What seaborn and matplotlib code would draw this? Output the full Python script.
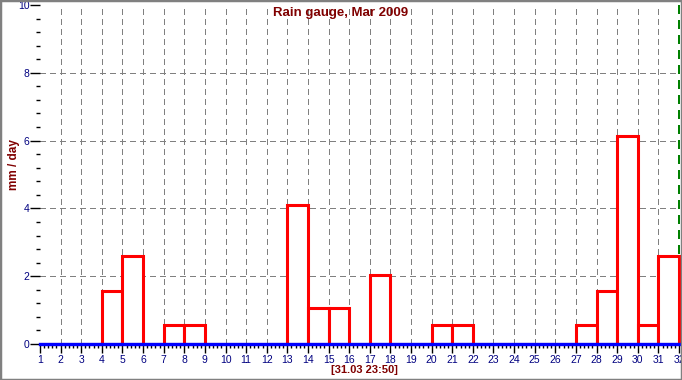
import matplotlib
matplotlib.use("Agg")
import matplotlib.pyplot as plt
from matplotlib.patches import Rectangle
from matplotlib.ticker import MultipleLocator
import seaborn as sns

# Daily rain, March 2009 (mm / day)
days = list(range(1, 32))
rain = [0, 0, 0, 1.55, 2.6, 0, 0.55, 0.55, 0, 0,
        0, 0, 4.1, 1.05, 1.05, 0, 2.05, 0, 0, 0.55,
        0.55, 0, 0, 0, 0, 0, 0.55, 1.55, 6.15, 0.55,
        2.6]
x_ticks = list(range(1, 33))
y_ticks = [0, 2, 4, 6, 8, 10]
title = "Rain gauge, Mar 2009"
y_label = "mm / day"
stamp = "[31.03 23:50]"

sns.set_style("white")
plt.rcParams["font.family"] = ["Liberation Sans", "DejaVu Sans"]

fig = plt.figure(figsize=(6.82, 3.80), dpi=100)
ax = fig.add_axes([40 / 682, 36 / 380, 639 / 682, 339 / 380])

# bars: one bin per day, white fill with red outline
sns.histplot(x=days, weights=rain, bins=x_ticks, ax=ax, stat="count",
             color="white", edgecolor="red", alpha=1, linewidth=2.2)
for p in ax.patches:
    p.set_zorder(2)
    p.set_clip_on(False)

ax.set_xlim(1, 32)
ax.set_ylim(0, 10)
ax.set_xlabel("")
ax.set_ylabel("")

# dashed grid
grid_kw = dict(colors="#808080", linestyles=(0, (4, 3)), lw=1, zorder=0.5, antialiased=False)
ax.vlines(x_ticks[1:-1], 0, 10, **grid_kw)
ax.hlines(y_ticks[1:-1], 1, 32, **grid_kw)
ax.vlines([x_ticks[-1]], 0, 10, colors="#008000", linestyles=(0, (5, 4)), lw=1.2,
          zorder=1, clip_on=False, antialiased=False)

for s in ["left", "right", "top"]:
    ax.spines[s].set_visible(False)
ax.spines["bottom"].set_color("#0000FF")
ax.spines["bottom"].set_linewidth(2.4)
ax.spines["bottom"].set_zorder(3)

ax.set_xticks(x_ticks)
ax.set_yticks(y_ticks)
ax.xaxis.set_minor_locator(MultipleLocator(0.2))
ax.yaxis.set_minor_locator(MultipleLocator(0.4))
ax.tick_params(axis="x", which="major", bottom=True, length=6.5, width=1, color="black",
               labelcolor="#000080", labelsize=7.5, pad=1.5)
ax.tick_params(axis="x", which="minor", bottom=True, length=3, width=1, color="black")
ax.tick_params(axis="y", which="major", left=True, length=7, width=1, color="black",
               labelcolor="#000080", labelsize=7.5, pad=0.5)
ax.tick_params(axis="y", which="minor", left=True, length=3, width=1, color="black")

fig.text(341 / 682, 1 - 13 / 380, title, ha="center", va="center",
         color="#800000", fontsize=9.5, fontweight="bold")
fig.text(14 / 682, 1 - 165 / 380, y_label, ha="center", va="center", rotation=90,
         color="#800000", fontsize=8.5, fontweight="bold")
fig.text(364 / 682, 1 - 370 / 380, stamp, ha="center", va="center",
         color="#800000", fontsize=8, fontweight="bold")

# grey window frame
fig.patches.append(Rectangle((0, 0), 1, 1, transform=fig.transFigure, fill=False,
                             edgecolor="#808080", lw=2.5))

fig.savefig("out.png", dpi=100)
